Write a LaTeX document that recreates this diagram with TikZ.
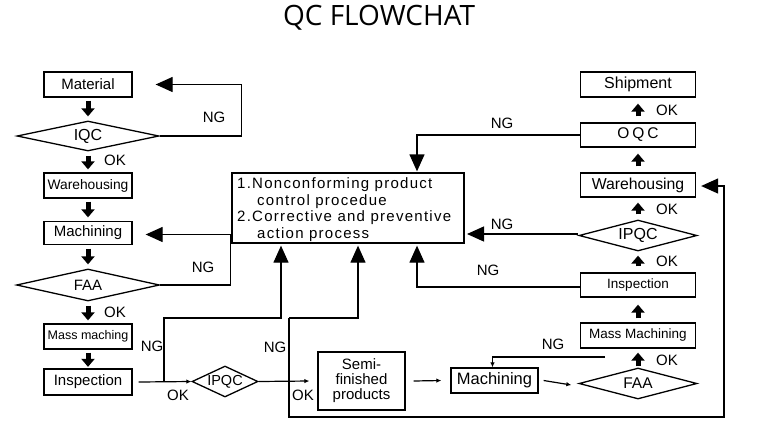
\documentclass[tikz,border=0pt]{standalone}
\usepackage{fontspec}
\setmainfont{Liberation Sans}
\newfontfamily\titlefont{Open Sans}
\newfontfamily\spacedfont[LetterSpace=8.5]{Liberation Sans}
\usetikzlibrary{shapes.geometric,arrows.meta}
\newcommand\fs[1]{\fontsize{#1}{#1}\selectfont}
\begin{document}
\begin{tikzpicture}[x=1pt,y=-1pt,
  box/.style={draw,line width=1.3pt,inner sep=0pt,minimum width=88pt,minimum height=25pt},
  rbox/.style={box,minimum width=115pt,minimum height=24pt},
  dia/.style={draw,shape=diamond,line width=1.3pt,inner sep=0pt,aspect=4},
  ln/.style={line width=1.3pt},
  bigtip/.style={ln,-{Triangle[length=17pt,width=15pt]}},
  fat/.style={line width=5pt,-{Triangle[length=8pt,width=13pt]}},
  thinarr/.style={line width=1.2pt,-{Latex[length=5pt,width=4.5pt]}},
  lab/.style={inner sep=0pt,font=\fs{15}}]
\useasboundingbox[fill=white] (0,0) rectangle (758,440);

\node[inner sep=0pt] (title) at (379,18) {\titlefont\fs{28}QC FLOWCHAT};

% left column
\node[box,font=\fs{15}] (mat) at (88,84.5) {Material};
\node[dia,minimum width=142pt,minimum height=30pt,font=\fs{16}] (iqc) at (88,136) {IQC};
\node[box,font=\fs{13.8}] (wh1) at (88,185.5) {Warehousing};
\node[box,minimum height=23pt,font=\fs{15}] (mach1) at (88,233) {Machining};
\node[dia,minimum width=143pt,minimum height=32pt,font=\fs{15}] (faa1) at (88,285) {FAA};
\node[box,font=\fs{12.5}] (mm1) at (88,336.5) {Mass maching};
\node[box,minimum height=26pt,font=\fs{15}] (insp1) at (88,382) {Inspection};

% bottom row
\node[dia,aspect=2.2,minimum width=66pt,minimum height=31pt,font=\fs{14.5}] (ipqc1) at (225,381.5) {IPQC};
\node[box,minimum width=87pt,minimum height=58pt,align=center,font=\fontsize{15}{15}\selectfont] (semi) at (361.5,381) {Semi-\\finished\\products};
\node[box,minimum width=87pt,font=\fs{16.5}] (mach2) at (494.5,380.5) {Machining};

% right column
\node[dia,minimum width=118pt,minimum height=31pt,font=\fs{15.5}] (faa2) at (638,383.5) {FAA};
\node[rbox,minimum height=25pt,font=\fs{13.5}] (mm2) at (638,335.5) {Mass Machining};
\node[rbox,font=\fs{13.5}] (insp2) at (638,285) {Inspection};
\node[dia,minimum width=118pt,minimum height=31pt,font=\fs{16}] (ipqc2) at (638,235.5) {IPQC};
\node[rbox,font=\fs{15.8}] (wh2) at (638,185) {Warehousing};
\node[rbox,font=\fs{15.5}] (oqc) at (638,135) {O\hspace{3pt}Q\hspace{3pt}C};
\node[rbox,minimum height=25pt,font=\fs{16}] (ship) at (638,84.5) {Shipment};

% central box
\node[draw,line width=1.3pt,minimum width=232pt,minimum height=70pt,inner sep=0pt] (cbox) at (348,208) {};
\node[anchor=west,align=left,inner sep=0pt,font=\spacedfont\fontsize{15}{16.5}\selectfont] (ctext) at (237,209.5)
  {1.Nonconforming product\\\hspace*{20pt}control procedue\\2.Corrective and preventive\\\hspace*{20pt}action process};

% fat arrows left
\draw[fat] ([yshift=-3pt]mat.south) -- ([yshift=4pt]iqc.north);
\draw[fat] ([yshift=-4pt]iqc.south) -- ([yshift=3pt]wh1.north);
\draw[fat] ([yshift=-3pt]wh1.south) -- ([yshift=3.5pt]mach1.north);
\draw[fat] ([yshift=-3.5pt]mach1.south) -- ([yshift=4pt]faa1.north);
\draw[fat] ([yshift=-4pt]faa1.south) -- ([yshift=3pt]mm1.north);
\draw[fat] ([yshift=-3pt]mm1.south) -- ([yshift=1.5pt]insp1.north);

% fat arrows right (upward)
\draw[fat] ([yshift=1pt]faa2.north) -- ([yshift=-4pt]mm2.south);
\draw[fat] ([yshift=4pt]mm2.north) -- ([yshift=-7pt]insp2.south);
\draw[fat] ([yshift=6pt]insp2.north) -- ([yshift=-4pt]ipqc2.south);
\draw[fat] ([yshift=5pt]ipqc2.north) -- ([yshift=-5pt]wh2.south);
\draw[fat] ([yshift=6pt]wh2.north) -- ([yshift=-6pt]oqc.south);
\draw[fat] ([yshift=6pt]oqc.north) -- ([yshift=-6pt]ship.south);

% NG loops left
\draw[bigtip] (iqc.east) -- ++(82,0) |- ([xshift=23pt]mat.east);
\draw[bigtip] (faa1.east) -- ++(70,0) |- ([xshift=13pt,yshift=-1.5pt]mach1.east);

% bottom flow
\coordinate (j1) at (164,381.5);
\coordinate (k1) at (289,318);
\coordinate (k2) at (724,417);
\coordinate (n1) at (605,357);
\draw[thinarr] ([xshift=6pt]insp1.east) -- (ipqc1.west);
\draw[bigtip] (j1) -- ++(0,-63.5) -| ([xshift=-67pt,yshift=-2pt]cbox.south);
\draw[thinarr] (ipqc1.east) -- ([xshift=-8pt]semi.west);
\draw[bigtip] (k1) -| ([xshift=10pt,yshift=-2pt]cbox.south);
\draw[bigtip] (k1) |- (k2) |- ([xshift=5pt,yshift=-1pt]wh2.east);
\draw[thinarr] ([xshift=8pt]semi.east) -- ([xshift=-9pt]mach2.west);
\draw[thinarr] ([xshift=5pt]mach2.east) -- ([xshift=-7pt,yshift=-1.5pt]faa2.west);
\draw[thinarr] (n1) -| ([xshift=-2pt]mach2.north);

% NG loops right
\draw[bigtip] ([yshift=-2pt]insp2.west) -| ([xshift=69pt,yshift=-2pt]cbox.south);
\coordinate (t1) at (467,234);
\draw[bigtip] ([yshift=1.5pt]ipqc2.west) -- (t1);
\draw[bigtip] (oqc.west) -| ([xshift=69pt,yshift=1pt]cbox.north);

% labels
\node[lab] (okA) at (115,160) {OK};
\node[lab] (okB) at (115,312) {OK};
\node[lab] (okC) at (178,395) {OK};
\node[lab] (okD) at (303,395) {OK};
\node[lab] (okE) at (667,110) {OK};
\node[lab] (okF) at (667,209) {OK};
\node[lab] (okG) at (667,261) {OK};
\node[lab] (okH) at (667,360) {OK};
\node[lab] (ngA) at (214,117) {NG};
\node[lab] (ngB) at (203,267) {NG};
\node[lab] (ngC) at (152,346) {NG};
\node[lab] (ngD) at (275,347) {NG};
\node[lab] (ngE) at (502,123) {NG};
\node[lab] (ngF) at (502,224) {NG};
\node[lab] (ngG) at (488,270) {NG};
\node[lab] (ngH) at (553,344) {NG};
\end{tikzpicture}
\end{document}
